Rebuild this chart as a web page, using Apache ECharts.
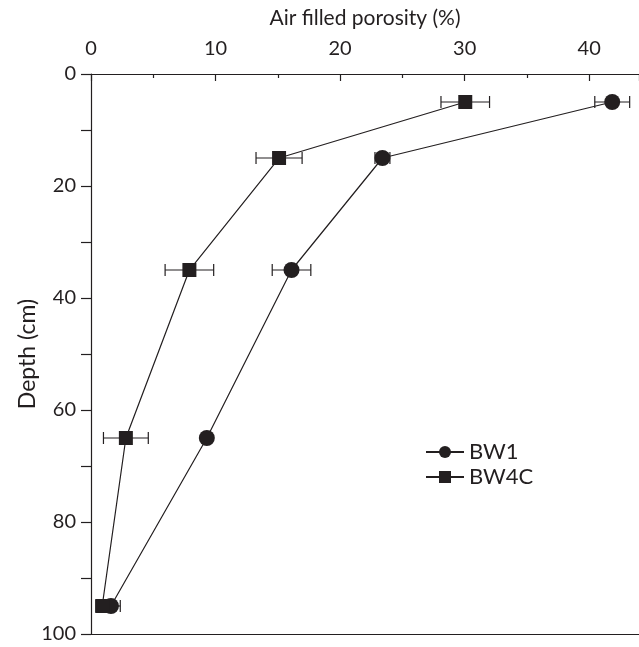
<!DOCTYPE html>
<html>
<head>
<meta charset="utf-8">
<script src="https://cdn.jsdelivr.net/npm/echarts@6/dist/echarts.min.js"></script>
<style>
  html, body { margin: 0; padding: 0; background: #fff; }
  #main { width: 639px; height: 647px; }
</style>
</head>
<body>
<div id="main"></div>
<script>
var depth = [5, 15, 35, 65, 95];
var bw1 = [41.85, 23.4, 16.1, 9.3, 1.6];
var bw1Err = [1.4, 0.6, 1.55, 0.3, 0.75];
var bw4c = [30.05, 15.1, 7.9, 2.8, 0.9];
var bw4cErr = [1.95, 1.85, 1.95, 1.8, 0.5];

var ink = '#231f20';
var font = 'Lato';

var myChart = echarts.init(document.getElementById('main'));

function pts(xs) {
  return xs.map(function (x, i) { return [x, depth[i]]; });
}
function errData(xs, errs) {
  return xs.map(function (x, i) { return [x - errs[i], x + errs[i], depth[i]]; });
}
function renderErr(params, api) {
  var lo = api.coord([api.value(0), api.value(2)]);
  var hi = api.coord([api.value(1), api.value(2)]);
  var h = 6;
  var style = { stroke: ink, lineWidth: 1.2 };
  return {
    type: 'group',
    children: [
      { type: 'line', shape: { x1: lo[0], y1: lo[1], x2: hi[0], y2: hi[1] }, style: style },
      { type: 'line', shape: { x1: lo[0], y1: lo[1] - h, x2: lo[0], y2: lo[1] + h }, style: style },
      { type: 'line', shape: { x1: hi[0], y1: hi[1] - h, x2: hi[0], y2: hi[1] + h }, style: style }
    ]
  };
}

var option = {
  animation: false,
  textStyle: { fontFamily: font, color: ink },
  grid: { left: 91, right: 0, top: 74, bottom: 13, containLabel: false, outerBoundsMode: 'none' },
  legend: {
    left: 420, top: 436,
    orient: 'vertical',
    itemWidth: 38, itemHeight: 15, itemGap: 3,
    textStyle: { fontSize: 22, color: ink, fontFamily: font },
    data: ['BW1', 'BW4C']
  },
  xAxis: [{
    type: 'value', position: 'top', min: 0, max: 44, interval: 10,
    name: 'Air filled porosity (%)', nameLocation: 'middle', nameGap: 45,
    nameTextStyle: { fontSize: 21, color: ink },
    axisLine: { lineStyle: { color: ink, width: 1.2 } },
    axisTick: { inside: true, length: 7, lineStyle: { color: ink, width: 1.2 } },
    minorTick: { show: true, splitNumber: 2, length: 4, lineStyle: { color: ink, width: 1.2 } },
    axisLabel: {
      margin: 15, fontSize: 20, color: ink, showMaxLabel: false,
      formatter: function (v) { return v % 10 === 0 ? String(v) : ''; }
    },
    splitLine: { show: false }
  }, {
    type: 'value', position: 'bottom', min: 0, max: 44,
    axisLine: { show: true, lineStyle: { color: ink, width: 1.2 } },
    axisTick: { show: false }, axisLabel: { show: false }, splitLine: { show: false }
  }],
  yAxis: {
    type: 'value', inverse: true, min: 0, max: 100, interval: 20,
    name: 'Depth (cm)', nameLocation: 'middle', nameGap: 52, nameMoveOverlap: false,
    nameTextStyle: { fontSize: 23, color: ink },
    axisLine: { show: true, lineStyle: { color: ink, width: 1.2 } },
    axisTick: { show: true, length: 10, lineStyle: { color: ink, width: 1.2 } },
    minorTick: { show: true, splitNumber: 2, length: 10, lineStyle: { color: ink, width: 1.2 } },
    axisLabel: { margin: 15, fontSize: 20, color: ink },
    splitLine: { show: false }
  },
  series: [
    {
      type: 'custom', name: 'BW1 err', xAxisIndex: 0,
      renderItem: renderErr, data: errData(bw1, bw1Err), z: 1, silent: true
    },
    {
      type: 'custom', name: 'BW4C err', xAxisIndex: 0,
      renderItem: renderErr, data: errData(bw4c, bw4cErr), z: 1, silent: true
    },
    {
      name: 'BW1', type: 'line', xAxisIndex: 0, data: pts(bw1),
      symbol: 'circle', symbolSize: 16,
      itemStyle: { color: ink },
      lineStyle: { color: ink, width: 1.2 }, z: 3
    },
    {
      name: 'BW4C', type: 'line', xAxisIndex: 0, data: pts(bw4c),
      symbol: 'rect', symbolSize: 14,
      itemStyle: { color: ink },
      lineStyle: { color: ink, width: 1.2 }, z: 3
    }
  ]
};

myChart.setOption(option);
</script>
</body>
</html>
